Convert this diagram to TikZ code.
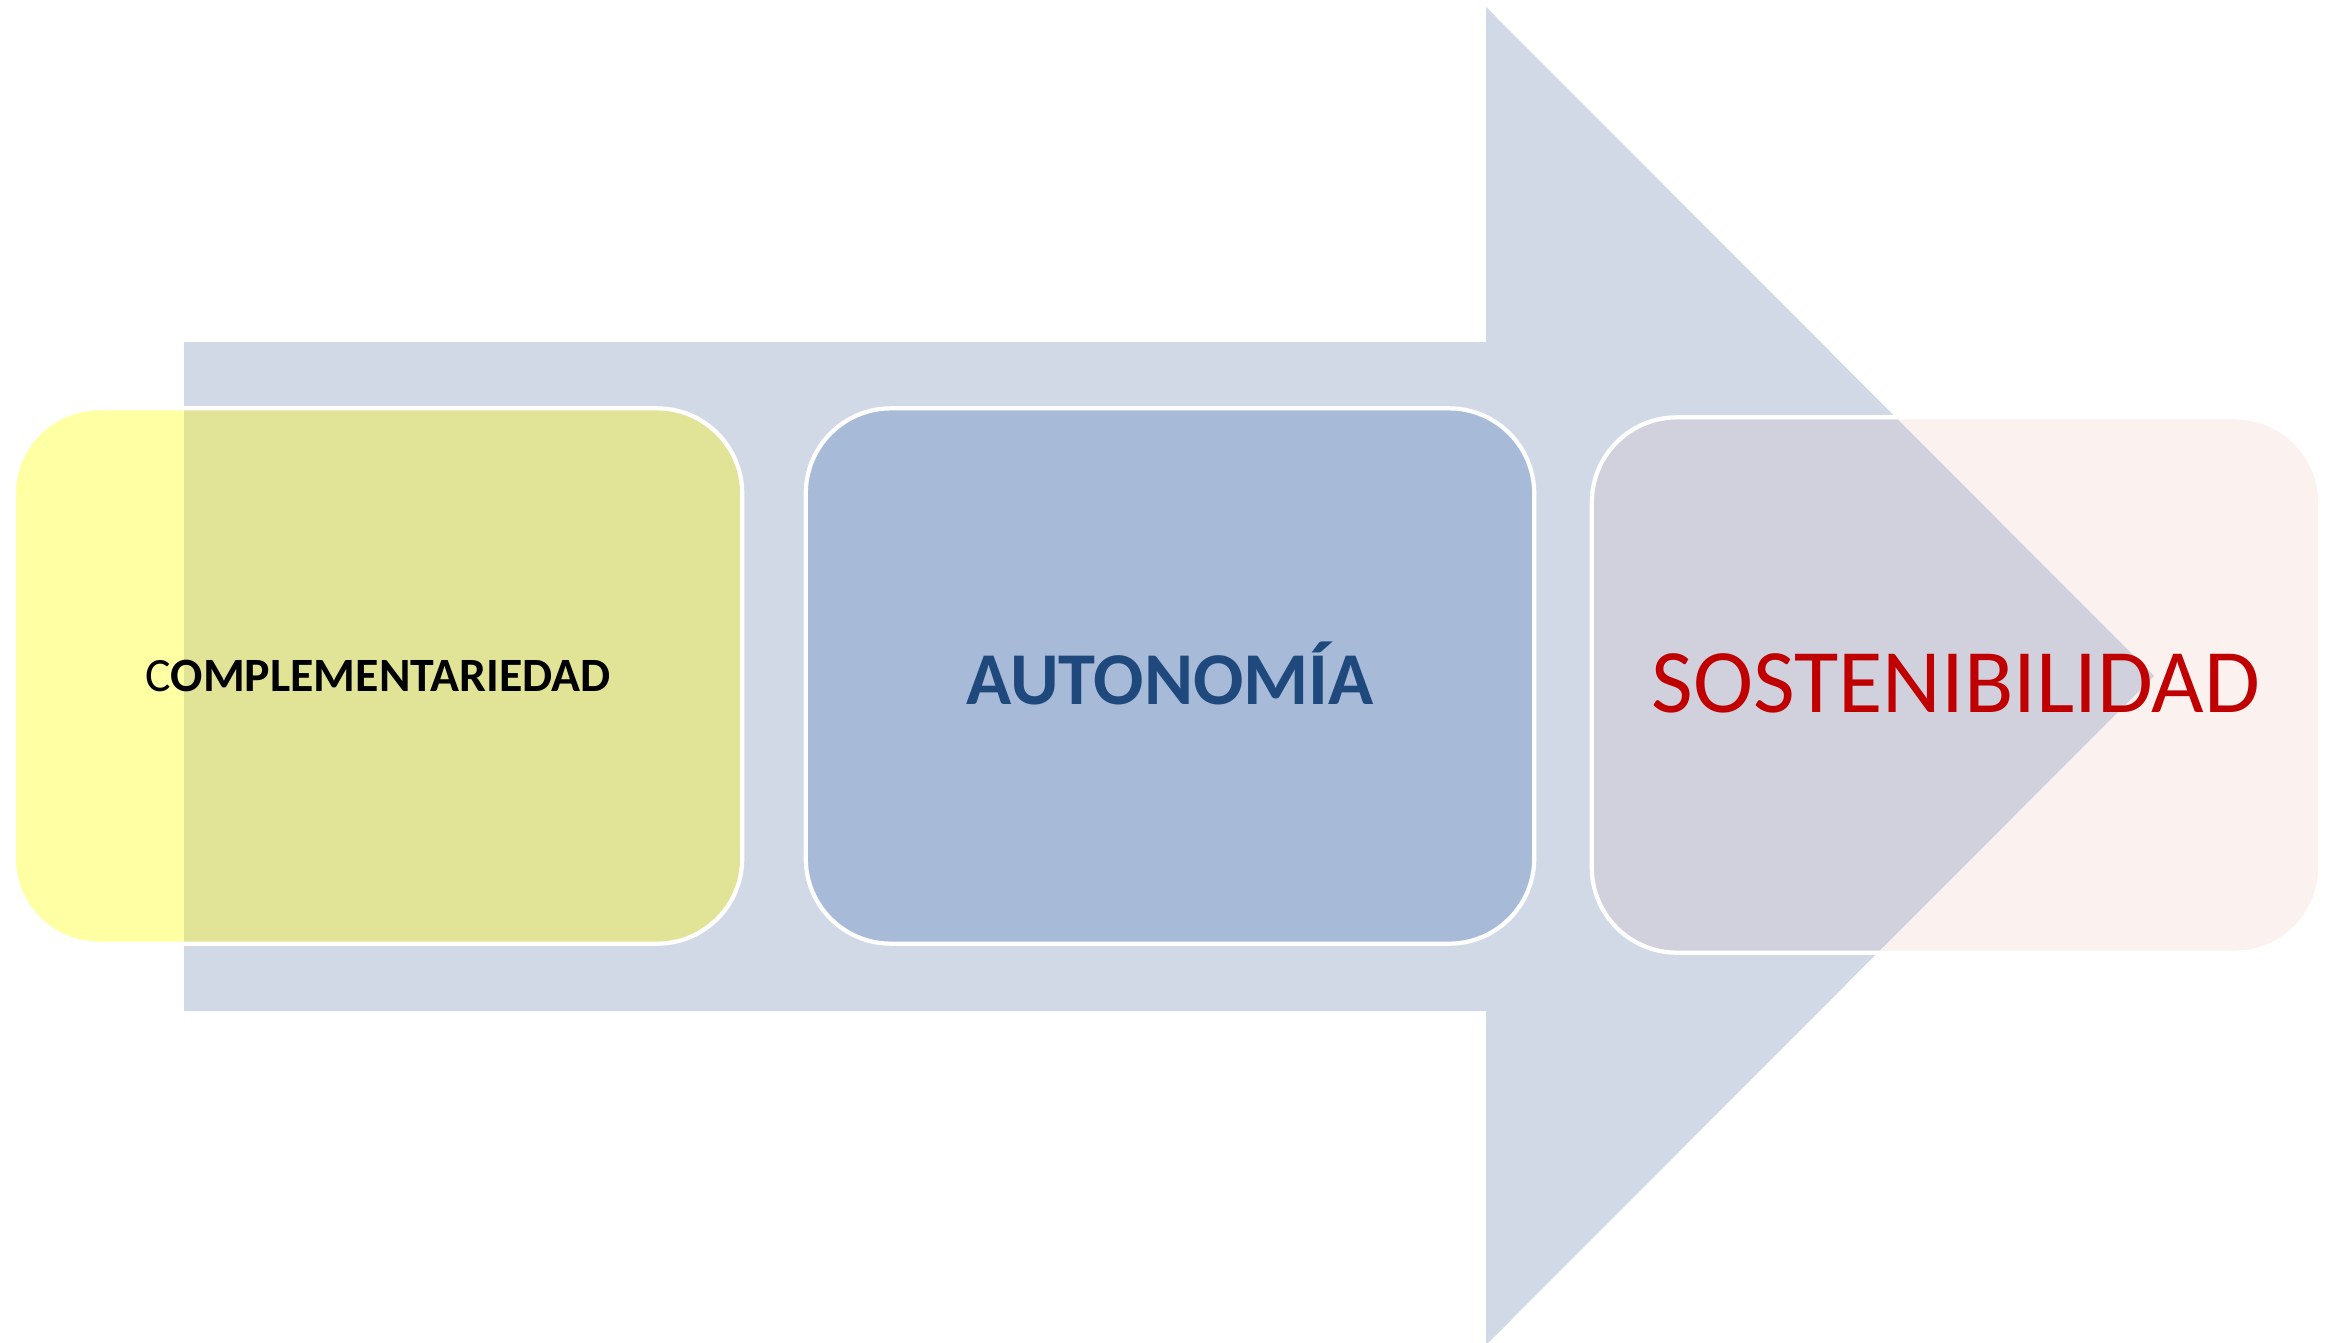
\documentclass[tikz,border=0pt]{standalone}
\usepackage{fontspec}
\setmainfont{Carlito}
\definecolor{flecha}{HTML}{D1D9E7}
\definecolor{amarillo}{HTML}{FFFFA3}
\definecolor{verdoso}{HTML}{E1E496}
\definecolor{azulclaro}{HTML}{A7BBD9}
\definecolor{rosado}{HTML}{FBF1EF}
\definecolor{grisrosa}{HTML}{D1D1DE}
\definecolor{azuloscuro}{HTML}{1F497D}
\definecolor{rojo}{HTML}{C00000}

\begin{document}
\begin{tikzpicture}[x=0.01cm,y=-0.01cm,
  etapa/.style={draw=white, line width=1.2pt, rounded corners=0.85cm,
    minimum width=7.28cm, minimum height=5.35cm, inner sep=0pt}]
\useasboundingbox (0,0) rectangle (2339,1342);
% flecha de fondo
\coordinate (t1) at (184,342);
\coordinate (t2) at (1486,342);
\coordinate (t3) at (1486,7);
\coordinate (tip) at (2154,676);
\coordinate (t4) at (1486,1345);
\coordinate (t5) at (1486,1011);
\coordinate (t6) at (184,1011);
\fill[flecha] (t1) -- (t2) -- (t3) -- (tip) -- (t4) -- (t5) -- (t6) -- cycle;
% etapas
\node[etapa, fill=amarillo,
  path picture={\fill[verdoso, sharp corners] (t1) -- (t2) -- (t3) -- (tip) -- (t4) -- (t5) -- (t6) -- cycle;}]
  (comp) at (378,676) {\fontsize{13.6}{16}\selectfont C\textbf{OMPLEMENTARIEDAD}};
\node[etapa, fill=azulclaro] (auto) at (1170,676)
  {\raisebox{6\dimexpr0.01cm}{\fontsize{21.2}{25}\selectfont\bfseries\color{azuloscuro}AUTONOMÍA}};
\node[etapa, fill=rosado,
  path picture={\fill[grisrosa, sharp corners] (t1) -- (t2) -- (t3) -- (tip) -- (t4) -- (t5) -- (t6) -- cycle;}]
  (sost) at (1956,685) {\raisebox{3\dimexpr0.01cm}{\fontsize{25.8}{30}\selectfont\color{rojo}SOSTENIBILIDAD}};
\end{tikzpicture}
\end{document}
